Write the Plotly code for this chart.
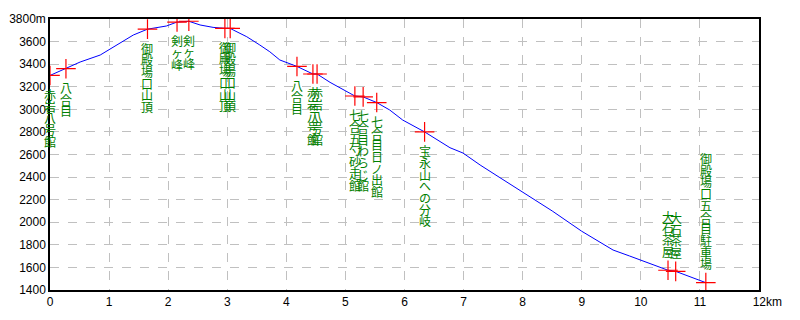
import plotly.graph_objects as go

# Elevation profile (distance km, elevation m)
profile_km = [0.00, 0.27, 0.51, 0.85, 1.18, 1.41, 1.65, 1.97, 2.15, 2.35, 2.54, 2.76, 2.96, 3.05,
              3.10, 3.33, 3.55, 3.72, 3.89, 4.18, 4.45, 4.52, 4.74, 4.96, 5.16, 5.30, 5.53, 5.75,
              5.97, 6.34, 6.77, 6.99, 7.28, 7.60, 8.00, 8.50, 9.00, 9.53, 9.81, 10.15, 10.46,
              10.59, 11.00, 11.10]
profile_m = [3300, 3360, 3419, 3481, 3585, 3658, 3710, 3738, 3773, 3780, 3747, 3726, 3717, 3717,
             3703, 3643, 3570, 3510, 3437, 3380, 3313, 3313, 3239, 3177, 3118, 3110, 3060, 2994,
             2905, 2800, 2660, 2613, 2507, 2400, 2270, 2100, 1920, 1754, 1701, 1636, 1575,
             1565, 1479, 1465]

# Waypoints
wp_km = [0.00, 0.27, 1.65, 2.15, 2.35, 2.96, 3.05, 4.18, 4.45, 4.52, 5.16, 5.30, 5.53, 6.34,
         10.46, 10.59, 11.10]
wp_m = [3300, 3360, 3710, 3773, 3780, 3717, 3717, 3380, 3313, 3313, 3118, 3110, 3060, 2800,
        1575, 1565, 1465]
wp_name = ["赤岩八号館", "八合目", "御殿場口山頂", "剣ヶ峰", "剣ヶ峰", "御殿場口山頂", "御殿場口山頂",
           "八合目", "赤岩八号館", "赤岩八号館", "七合五勺砂走館", "七合目わらじ館", "七合目日ノ出館",
           "宝永山への分岐", "大石茶屋", "大石茶屋", "御殿場口五合目駐車場"]
wp_above = [False] * 14 + [True, True, True]

y_ticks = list(range(1400, 3801, 200))
y_text = [str(v) for v in y_ticks[:-1]] + ["3800m"]
x_ticks = list(range(0, 13))
x_text = [str(v) for v in x_ticks[:-1]] + ["&nbsp;&nbsp;&nbsp;&nbsp;&nbsp;12km"]

fig = go.Figure()
fig.add_trace(go.Scatter(x=profile_km, y=profile_m, mode="lines",
                         line=dict(color="#0000ff", width=1), hoverinfo="skip"))
fig.add_trace(go.Scatter(x=wp_km, y=wp_m, mode="markers",
                         marker=dict(symbol="cross-thin", size=14,
                                     line=dict(color="#ff0000", width=1.2)),
                         hoverinfo="skip"))

CH = 11.7
GAP = 13
ann = []
for x, y, name, above in zip(wp_km, wp_m, wp_name, wp_above):
    n = len(name)
    for i, ch in enumerate(name):
        if above:
            shift = GAP + CH / 2 + (n - 1 - i) * CH
        else:
            shift = -(GAP + CH / 2 + i * CH)
        ann.append(dict(x=x, y=y, xref="x", yref="y", text=ch, showarrow=False,
                        xanchor="center", yanchor="middle", yshift=shift,
                        font=dict(family="Noto Sans CJK JP", size=12, color="#008000")))

fig.update_layout(
    width=800, height=320,
    margin=dict(l=50, r=41, t=19, b=30),
    paper_bgcolor="white", plot_bgcolor="white",
    showlegend=False,
    annotations=ann,
    font=dict(family="Liberation Sans", size=12, color="black"),
    xaxis=dict(range=[0, 12], tickvals=x_ticks, ticktext=x_text, showgrid=True,
               gridcolor="#c0c0c0", griddash="dash", gridwidth=1, zeroline=False,
               showline=True, linecolor="black", linewidth=1.5, mirror=True,
               ticks="", tickfont=dict(size=12), automargin=False),
    yaxis=dict(range=[1400, 3800], tickvals=y_ticks, ticktext=y_text, showgrid=True,
               gridcolor="#c0c0c0", griddash="dash", gridwidth=1, zeroline=False,
               showline=True, linecolor="black", linewidth=1.5, mirror=True,
               ticks="", tickfont=dict(size=12), automargin=False),
)

fig.write_html("out.html")
